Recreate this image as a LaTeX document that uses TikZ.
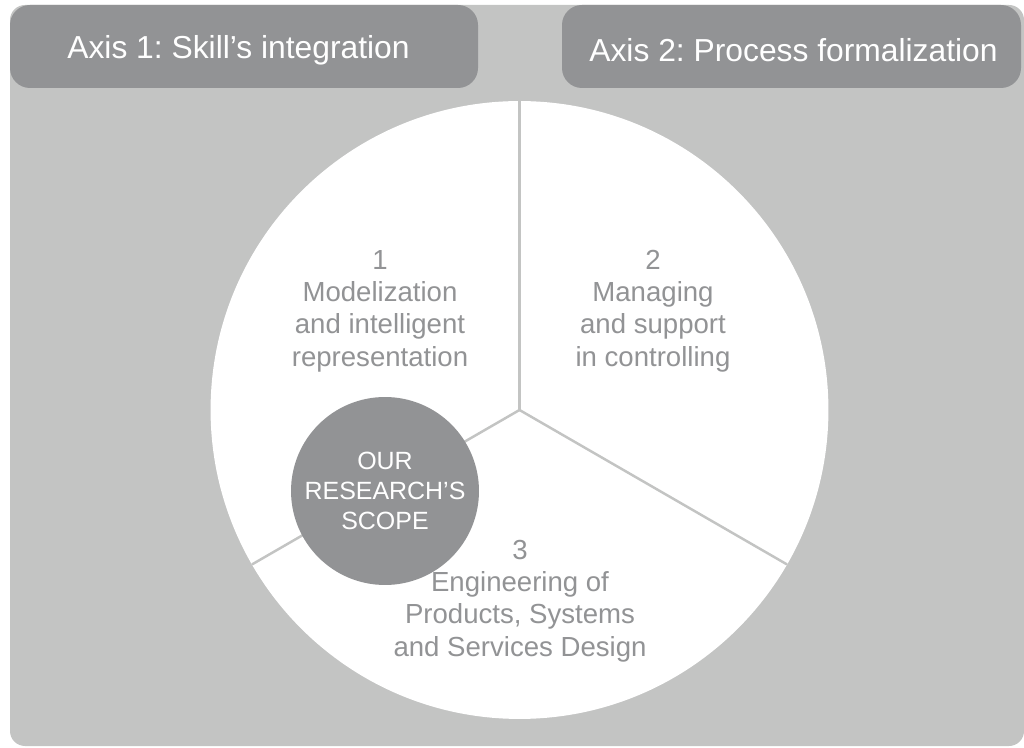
\documentclass[tikz,border=0pt]{standalone}
\usepackage{fontspec}
\setmainfont{Liberation Sans}
\frenchspacing
\definecolor{axbg}{HTML}{C3C4C3}
\definecolor{axtab}{HTML}{929395}
\definecolor{axtext}{HTML}{929395}
\tikzset{
  tab/.style={fill=axtab,rounded corners=0.4cm},
  tabtxt/.style={text=white,inner sep=0pt,font=\fontsize{18.1}{21}\selectfont},
  seg/.style={text=axtext,align=center,inner sep=0pt,font=\fontsize{15.7}{18.4}\selectfont},
  divider/.style={draw=axbg,line width=1.4pt},
  disc/.style={circle,inner sep=0pt,outer sep=0pt},
}
\begin{document}
\begin{tikzpicture}[x=0.02cm,y=0.02cm]
  \useasboundingbox (0,0) rectangle (1024,747);
  \fill[axbg,rounded corners=0.3cm] (10,1) rectangle (1024,742);
  % axis tabs
  \fill[tab] (10,659) rectangle (478,742);
  \fill[tab] (562,659) rectangle (1021,742);
  \node[tabtxt] (ax1) at (238.5,697) {Axis 1: Skill's integration};
  \node[tabtxt] (ax2) at (793.5,697) {Axis 2: Process formalization};
  % pie of the three fields
  \node[disc,fill=white,minimum size=12.36cm] (pie) at (519.5,337) {};
  \foreach \a in {90,210,330} { \draw[divider] (pie.center) -- (pie.\a); }
  \node[disc,fill=axtab,minimum size=3.76cm,text=white,align=center,font=\fontsize{14.2}{17}\selectfont] (scope) at (385,256) {OUR\\RESEARCH'S\\SCOPE};
  \node[seg] (f1) at (380,436) {1\\Modelization\\and intelligent\\representation};
  \node[seg] (f2) at (653,436) {2\\Managing\\and support\\in controlling};
  \node[seg] (f3) at (520,146) {3\\Engineering of\\Products, Systems\\and Services Design};
\end{tikzpicture}
\end{document}
